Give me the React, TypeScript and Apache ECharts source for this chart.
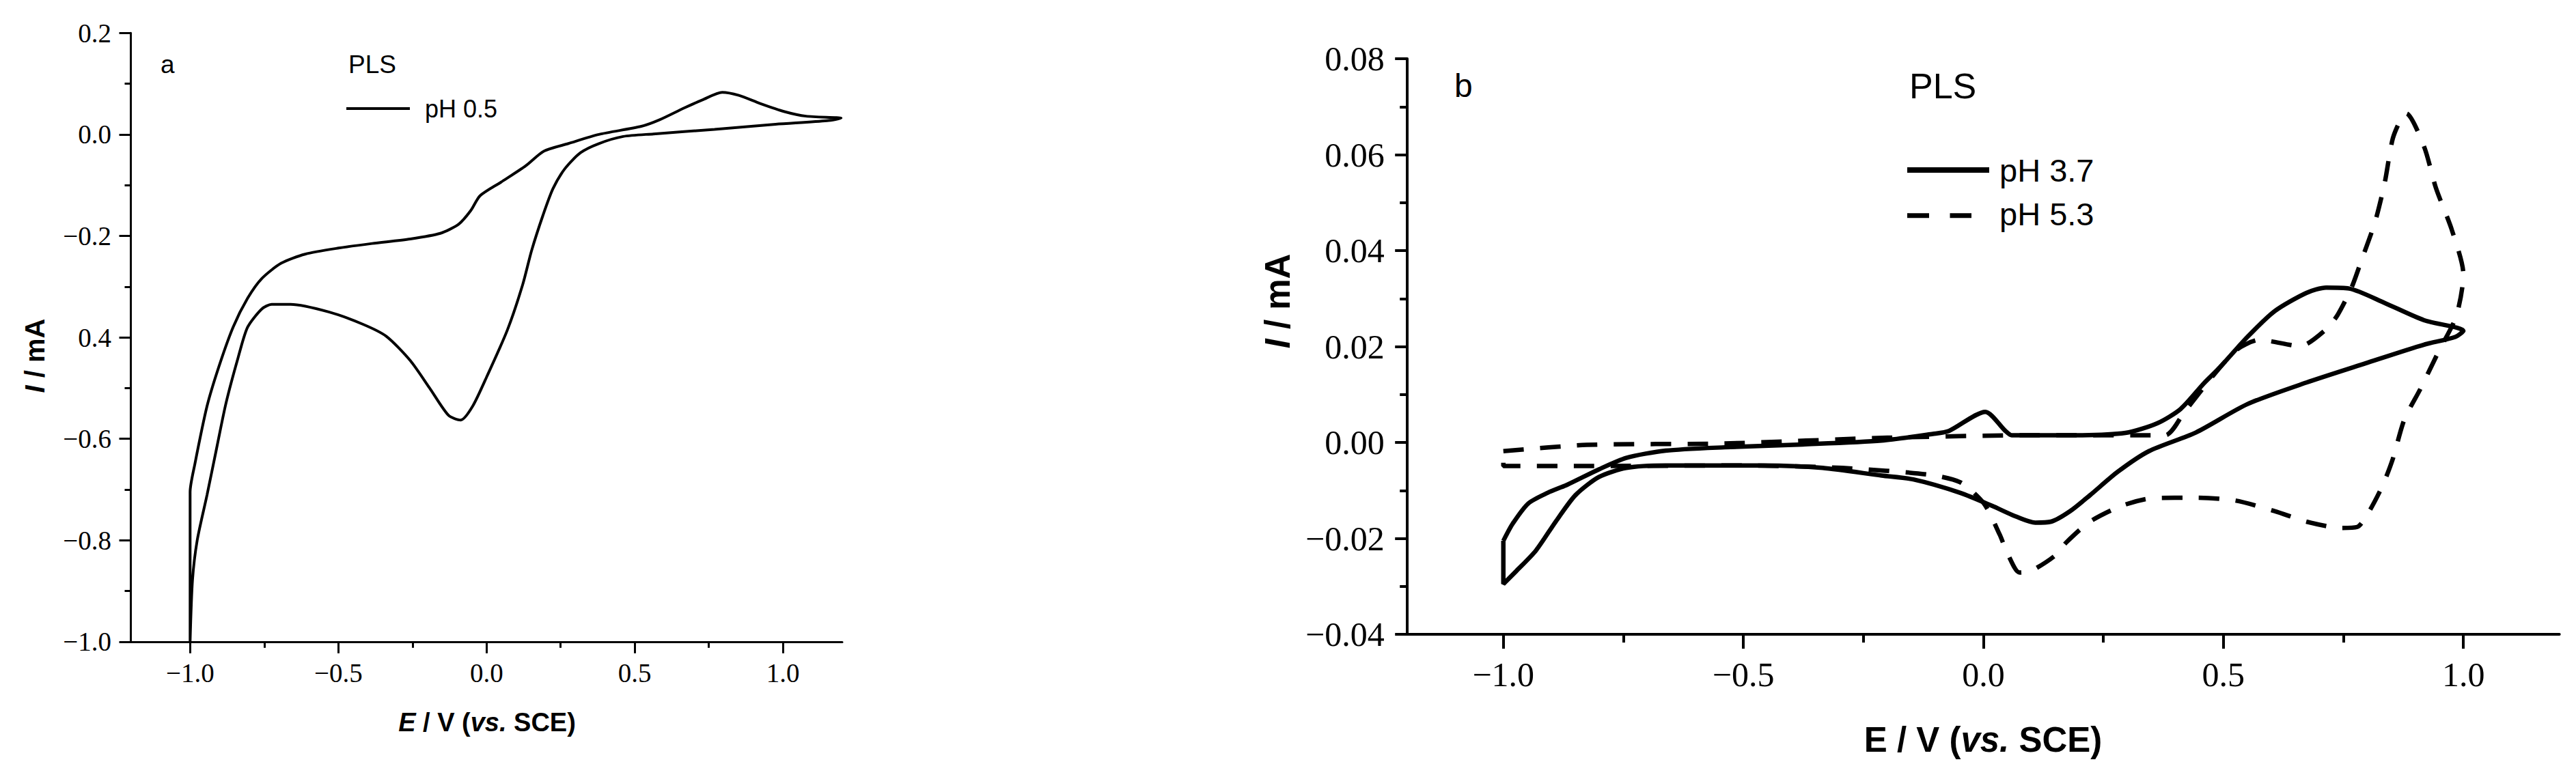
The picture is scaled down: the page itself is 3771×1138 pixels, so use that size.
import React, { useEffect, useRef } from 'react';
import * as echarts from 'echarts';

// ---------- axis ticks ----------
const xMajorTicks = [-1.0, -0.5, 0.0, 0.5, 1.0];
const xMinorTicks = [-0.75, -0.25, 0.25, 0.75];

// ---------- panel a : PLS pH 0.5 (E / V, I / mA) ----------
const cvPh05: [number, number][] = [
  [-1.0, -1.0], [-1.0, -0.705], [-0.984, -0.65], [-0.943, -0.536], [-0.903, -0.458],
  [-0.855, -0.38], [-0.806, -0.323], [-0.758, -0.284], [-0.693, -0.254], [-0.612, -0.236],
  [-0.499, -0.224], [-0.386, -0.215], [-0.257, -0.206], [-0.156, -0.195], [-0.094, -0.177],
  [-0.053, -0.15], [-0.022, -0.121], [0.049, -0.094], [0.132, -0.062], [0.193, -0.033],
  [0.276, -0.018], [0.379, 0.0], [0.522, 0.016], [0.584, 0.029], [0.666, 0.052],
  [0.728, 0.068], [0.795, 0.083], [0.851, 0.077], [0.923, 0.061], [1.005, 0.045],
  [1.078, 0.036], [1.196, 0.032],
  [1.149, 0.027], [0.975, 0.02], [0.769, 0.01], [0.563, 0.001], [0.461, -0.004],
  [0.379, -0.018], [0.317, -0.036], [0.265, -0.067], [0.224, -0.107], [0.19, -0.16],
  [0.152, -0.229], [0.122, -0.296], [0.07, -0.386], [0.002, -0.476], [-0.047, -0.536],
  [-0.087, -0.563], [-0.128, -0.554], [-0.192, -0.5], [-0.257, -0.446], [-0.338, -0.398],
  [-0.418, -0.374], [-0.532, -0.35], [-0.661, -0.335], [-0.725, -0.335], [-0.758, -0.344],
  [-0.806, -0.38], [-0.838, -0.44], [-0.879, -0.53], [-0.911, -0.62], [-0.943, -0.711],
  [-0.976, -0.8], [-0.992, -0.879], [-1.0, -1.0],
];

// ---------- panel b : PLS pH 3.7 (solid) ----------
const cvPh37: [number, number][] = [
  [-1.0, -0.0205], [-0.981, -0.017], [-0.948, -0.0127], [-0.908, -0.0105], [-0.867, -0.0088],
  [-0.801, -0.0056], [-0.744, -0.0032], [-0.662, -0.0017], [-0.539, -0.001], [-0.376, -0.0004],
  [-0.212, 0.0004], [-0.105, 0.0018], [-0.072, 0.0024], [0.004, 0.0064], [0.046, 0.0024],
  [0.059, 0.0015], [0.181, 0.0015], [0.296, 0.002], [0.362, 0.004], [0.411, 0.007],
  [0.46, 0.0124], [0.493, 0.0157], [0.55, 0.022], [0.607, 0.0274], [0.673, 0.0312],
  [0.714, 0.0323], [0.762, 0.0321], [0.836, 0.0291], [0.918, 0.0255], [1.0, 0.0233],
  [0.983, 0.022], [0.918, 0.0204], [0.796, 0.0165], [0.673, 0.0125], [0.55, 0.008],
  [0.443, 0.0021], [0.345, -0.0018], [0.28, -0.0061], [0.222, -0.011], [0.181, -0.0143],
  [0.141, -0.0165], [0.108, -0.0167], [0.067, -0.0154], [0.018, -0.0132], [-0.048, -0.0105],
  [-0.146, -0.0077], [-0.212, -0.0069], [-0.335, -0.0053], [-0.457, -0.0048], [-0.662, -0.0048],
  [-0.744, -0.0053], [-0.801, -0.0072], [-0.85, -0.011], [-0.891, -0.0165], [-0.932, -0.0225],
  [-0.973, -0.0268], [-1.0, -0.0295], [-1.0, -0.0205],
];

// ---------- panel b : PLS pH 5.3 (dashed) ----------
const cvPh53: [number, number][] = [
  [-1.0, -0.0018], [-0.826, -0.0005], [-0.539, -0.0002], [-0.2, 0.001], [0.1, 0.0015],
  [0.378, 0.0015], [0.419, 0.0064], [0.484, 0.0146], [0.53, 0.0195], [0.575, 0.0214],
  [0.66, 0.0201], [0.714, 0.0236], [0.738, 0.0266], [0.767, 0.0323], [0.787, 0.0378],
  [0.816, 0.046], [0.836, 0.0541], [0.853, 0.0634], [0.874, 0.0683], [0.881, 0.0686],
  [0.918, 0.0617], [0.943, 0.053], [0.976, 0.0443], [1.0, 0.035], [0.985, 0.0263],
  [0.948, 0.0189], [0.91, 0.0111], [0.877, 0.0048], [0.853, -0.0034], [0.832, -0.0089],
  [0.804, -0.0143], [0.779, -0.0176], [0.746, -0.0178], [0.673, -0.0165], [0.607, -0.0143],
  [0.525, -0.0121], [0.443, -0.0115], [0.353, -0.0116], [0.288, -0.0132], [0.222, -0.0165],
  [0.173, -0.0208], [0.149, -0.0236], [0.099, -0.0268], [0.075, -0.0271], [0.051, -0.0233],
  [0.034, -0.0192], [0.001, -0.0127], [-0.048, -0.0083], [-0.114, -0.0067], [-0.294, -0.0053],
  [-0.5, -0.0048], [-0.832, -0.0049], [-1.0, -0.0049], [-1.0, -0.0018],
];

const SERIF = '"Liberation Serif", "Times New Roman", serif';
const SANS = '"Liberation Sans", Arial, sans-serif';
const MINUS = '\u2212';

const fmtX = (v: number) => {
  const r = Math.round(v * 10) / 10;
  if (r === 0) return '0.0';
  return r.toFixed(1).replace('-', MINUS);
};
const fmtYa = (v: number) => {
  const r = Math.round(v * 10) / 10;
  if (r === 0) return '0.0';
  if (r === -0.4) return '0.4';
  return r.toFixed(1).replace('-', MINUS);
};
const fmtYb = (v: number) => {
  const r = Math.round(v * 100) / 100;
  if (r === 0) return '0.00';
  return r.toFixed(2).replace('-', MINUS);
};

function majorX(grid: number, lw: number, len: number, fs: number, margin: number) {
  return {
    type: 'value', gridIndex: grid, min: -1.2, max: 1.2, position: 'bottom',
    axisLine: { show: true, onZero: false, lineStyle: { color: '#000', width: lw } },
    axisTick: { show: true, length: len, customValues: xMajorTicks, lineStyle: { color: '#000', width: lw } },
    axisLabel: { show: true, customValues: xMajorTicks, formatter: fmtX, fontFamily: SERIF, fontSize: fs, color: '#000', margin },
    splitLine: { show: false },
  };
}
function minorX(grid: number, lw: number, len: number) {
  return {
    type: 'value', gridIndex: grid, min: -1.2, max: 1.2, position: 'bottom',
    axisLine: { show: false, onZero: false },
    axisTick: { show: true, length: len, customValues: xMinorTicks, lineStyle: { color: '#000', width: lw } },
    axisLabel: { show: false },
    splitLine: { show: false },
  };
}

function txt(x: number, y: number, text: string, fs: number, extra: any = {}) {
  return {
    type: 'text', x, y, z: 100,
    style: {
      text, fontSize: fs, fontFamily: SANS, fill: '#000',
      align: 'left', textAlign: 'left', verticalAlign: 'middle', textVerticalAlign: 'middle',
      ...extra,
    },
  };
}

function richTitle(x: number, y: number, text: string, fs: number, rotation: number, italicFirst: boolean) {
  const base = { fontSize: fs, fontFamily: SANS, fontWeight: 'bold', fill: '#000', color: '#000' };
  return {
    type: 'text', x, y, rotation, z: 100,
    style: {
      text,
      ...base,
      align: 'center', textAlign: 'center', verticalAlign: 'middle', textVerticalAlign: 'middle',
      rich: {
        i: { ...base, fontStyle: 'italic' },
        n: { ...base, fontStyle: 'normal' },
      },
    },
  };
}

export default function App() {
  const ref = useRef<HTMLDivElement>(null);
  useEffect(() => {
    document.body.style.margin = '0';
    const chart = echarts.init(ref.current!, null, { renderer: 'svg' });
    const option: any = {
      animation: false,
      backgroundColor: '#ffffff',
      grid: [
        { left: 191.5, top: 48.3, width: 1041.5, height: 891.5, containLabel: false, outerBoundsMode: 'none' },
        { left: 2060.2, top: 86.1, width: 1686.5, height: 843, containLabel: false, outerBoundsMode: 'none' },
      ],
      xAxis: [
        majorX(0, 3, 17, 39, 26.5),
        minorX(0, 3, 9),
        majorX(1, 4, 21, 50, 33.5),
        minorX(1, 4, 12),
      ],
      yAxis: [
        {
          type: 'value', gridIndex: 0, min: -1.0, max: 0.2, interval: 0.2,
          axisLine: { show: true, onZero: false, lineStyle: { color: '#000', width: 3 } },
          axisTick: { show: true, length: 17, lineStyle: { color: '#000', width: 3 } },
          minorTick: { show: true, splitNumber: 2, length: 9, lineStyle: { color: '#000', width: 3 } },
          axisLabel: { formatter: fmtYa, fontFamily: SERIF, fontSize: 39, color: '#000', margin: 28.5 },
          splitLine: { show: false }, minorSplitLine: { show: false },
        },
        {
          type: 'value', gridIndex: 1, min: -0.04, max: 0.08, interval: 0.02,
          axisLine: { show: true, onZero: false, lineStyle: { color: '#000', width: 4 } },
          axisTick: { show: true, length: 18, lineStyle: { color: '#000', width: 4 } },
          minorTick: { show: true, splitNumber: 2, length: 11, lineStyle: { color: '#000', width: 4 } },
          axisLabel: { formatter: fmtYb, fontFamily: SERIF, fontSize: 50, color: '#000', margin: 33.5 },
          splitLine: { show: false }, minorSplitLine: { show: false },
        },
      ],
      series: [
        {
          name: 'pH 0.5', type: 'line', xAxisIndex: 0, yAxisIndex: 0, data: cvPh05,
          symbol: 'none', showSymbol: false, smooth: 0.25, silent: true,
          lineStyle: { color: '#000', width: 4 },
        },
        {
          name: 'pH 3.7', type: 'line', xAxisIndex: 2, yAxisIndex: 1, data: cvPh37,
          symbol: 'none', showSymbol: false, smooth: 0.25, silent: true,
          lineStyle: { color: '#000', width: 6.5 },
        },
        {
          name: 'pH 5.3', type: 'line', xAxisIndex: 2, yAxisIndex: 1, data: cvPh53,
          symbol: 'none', showSymbol: false, smooth: 0.25, silent: true,
          lineStyle: { color: '#000', width: 6.5, type: [30, 24] },
        },
      ],
      graphic: [
        // panel a labels & legend
        txt(235, 94, 'a', 37),
        txt(510, 94, 'PLS', 37),
        { type: 'line', z: 100, shape: { x1: 507, y1: 159, x2: 600, y2: 159 }, style: { stroke: '#000', lineWidth: 4 } },
        txt(622, 159.5, 'pH 0.5', 36),
        // panel b labels & legend
        txt(2129, 125.7, 'b', 48),
        txt(2795, 125.5, 'PLS', 52),
        { type: 'line', z: 100, shape: { x1: 2792, y1: 249, x2: 2912, y2: 249 }, style: { stroke: '#000', lineWidth: 8 } },
        txt(2927, 249.7, 'pH 3.7', 47),
        { type: 'line', z: 100, shape: { x1: 2792, y1: 315.7, x2: 2886, y2: 315.7 }, style: { stroke: '#000', lineWidth: 7, lineDash: [32, 30.5] } },
        txt(2927, 313.7, 'pH 5.3', 47),
        // axis titles
        richTitle(713, 1058, '{i|E}{n| / V (}{i|vs.}{n| SCE)}', 38, 0, true),
        richTitle(51, 521, '{i|I}{n| / mA}', 40, Math.PI / 2, true),
        richTitle(2903, 1083, '{n|E / V (}{i|vs.}{n| SCE)}', 51, 0, false),
        richTitle(1870, 441, '{i|I}{n| / mA}', 51, Math.PI / 2, true),
      ],
    };
    chart.setOption(option);
    return () => chart.dispose();
  }, []);
  return (
    <div
      ref={ref}
      style={{ position: 'absolute', left: 0, top: 0, width: 3771, height: 1138, background: '#fff' }}
    />
  );
}
